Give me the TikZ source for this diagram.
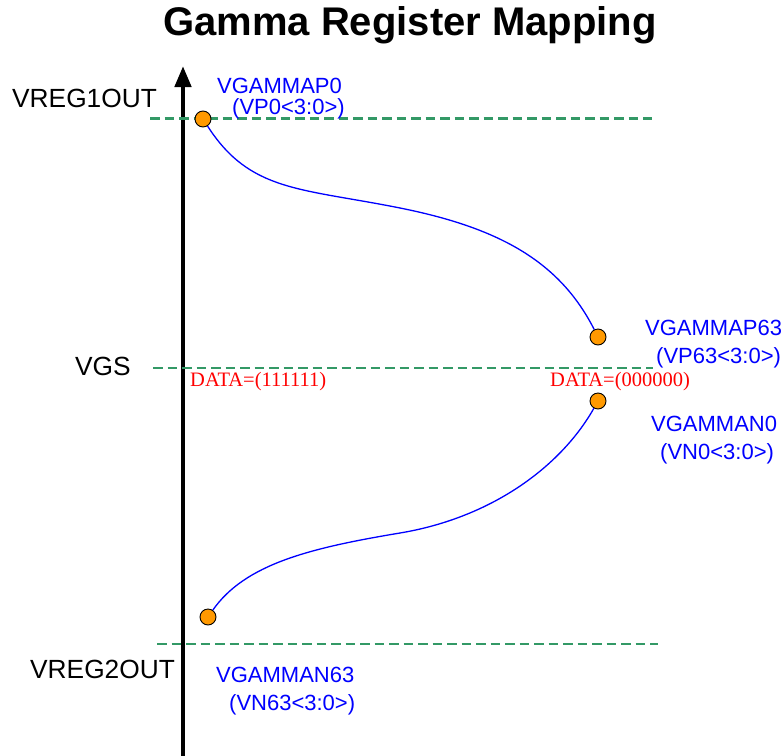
\documentclass[tikz,border=0pt]{standalone}
\usepackage{fontspec}
\setmainfont{Liberation Sans}
\newfontfamily\serifred{Liberation Serif}
\usetikzlibrary{arrows.meta}
\definecolor{ink}{HTML}{000000}
\definecolor{guide}{HTML}{339966}
\definecolor{curve}{HTML}{0000FF}
\definecolor{dot}{HTML}{FF9900}
\definecolor{datared}{HTML}{FF0000}
\tikzset{
  axis/.style={-{Triangle[length=21pt,width=16pt]}, draw=ink, line width=4.5pt},
  level/.style={draw=guide, line width=2.3pt, dash pattern=on 9.5pt off 5pt},
  gamma/.style={draw=curve, line width=1.3pt},
  pt/.style={circle, draw=ink, fill=dot, line width=0.9pt, minimum size=16pt, inner sep=0pt},
  title/.style={font=\bfseries\fontsize{40}{45}\selectfont, text=ink, inner sep=0pt},
  rail/.style={font=\fontsize{26.3}{31}\selectfont, text=ink, inner sep=0pt, anchor=base west},
  reg/.style={font=\fontsize{22}{26}\selectfont, text=curve, inner sep=0pt, anchor=base west},
  data/.style={font=\serifred\fontsize{20.5}{24}\selectfont, text=datared, inner sep=0pt, anchor=base west},
}
\begin{document}
\begin{tikzpicture}[x=1pt,y=-1pt]
\useasboundingbox (0,0) rectangle (784,755);

% Title -----------------------------------------------------------------------
\node[title, anchor=base] (head) at (410,35) {Gamma Register Mapping};

% Voltage axis ----------------------------------------------------------------
\coordinate (axbot) at (183,757);
\coordinate (axtop) at (183,66);
\draw[axis] (axbot) -- (axtop);

% Reference levels ------------------------------------------------------------
\coordinate (vr1a) at (150,118.5);  \coordinate (vr1b) at (652,118.5);
\coordinate (vgsa) at (153,368);    \coordinate (vgsb) at (653,368);
\coordinate (vr2a) at (157,644);    \coordinate (vr2b) at (658,644);
\draw[level] (vr1a) -- (vr1b);
\draw[level] (vgsa) -- (vgsb);
\draw[level] (vr2a) -- (vr2b);

\node[rail] (vreg1) at (12,107) {VREG1OUT};
\node[rail] (vgs)   at (75,375) {VGS};
\node[rail] (vreg2) at (30,678) {VREG2OUT};

% Gamma points ----------------------------------------------------------------
\node[pt] (p0)  at (203,119) {};
\node[pt] (p63) at (598,337) {};
\node[pt] (n0)  at (598,401) {};
\node[pt] (n63) at (208,617) {};

% Positive polarity curve
\draw[gamma] (p0) .. controls (250,192) and (300,188) .. (400,208)
                  .. controls (500,228) and (560,262) .. (p63);
% Negative polarity curve
\draw[gamma] (n63) .. controls (245,564) and (310,548) .. (400,533)
                   .. controls (490,518) and (560,468) .. (n0);

% Register labels -------------------------------------------------------------
\node[reg] (lp0)   at (217,93)  {VGAMMAP0};
\node[reg] (lp0r)  at (232,114) {(VP0<3:0>)};
\node[reg] (lp63)  at (645,335) {VGAMMAP63};
\node[reg] (lp63r) at (656,363) {(VP63<3:0>)};
\node[reg] (ln0)   at (651,431) {VGAMMAN0};
\node[reg] (ln0r)  at (660,459) {(VN0<3:0>)};
\node[reg] (ln63)  at (216,682) {VGAMMAN63};
\node[reg] (ln63r) at (229,710) {(VN63<3:0>)};

\node[data] (d1) at (190,386) {DATA=(111111)};
\node[data] (d0) at (550,386) {DATA=(000000)};

\end{tikzpicture}
\end{document}
